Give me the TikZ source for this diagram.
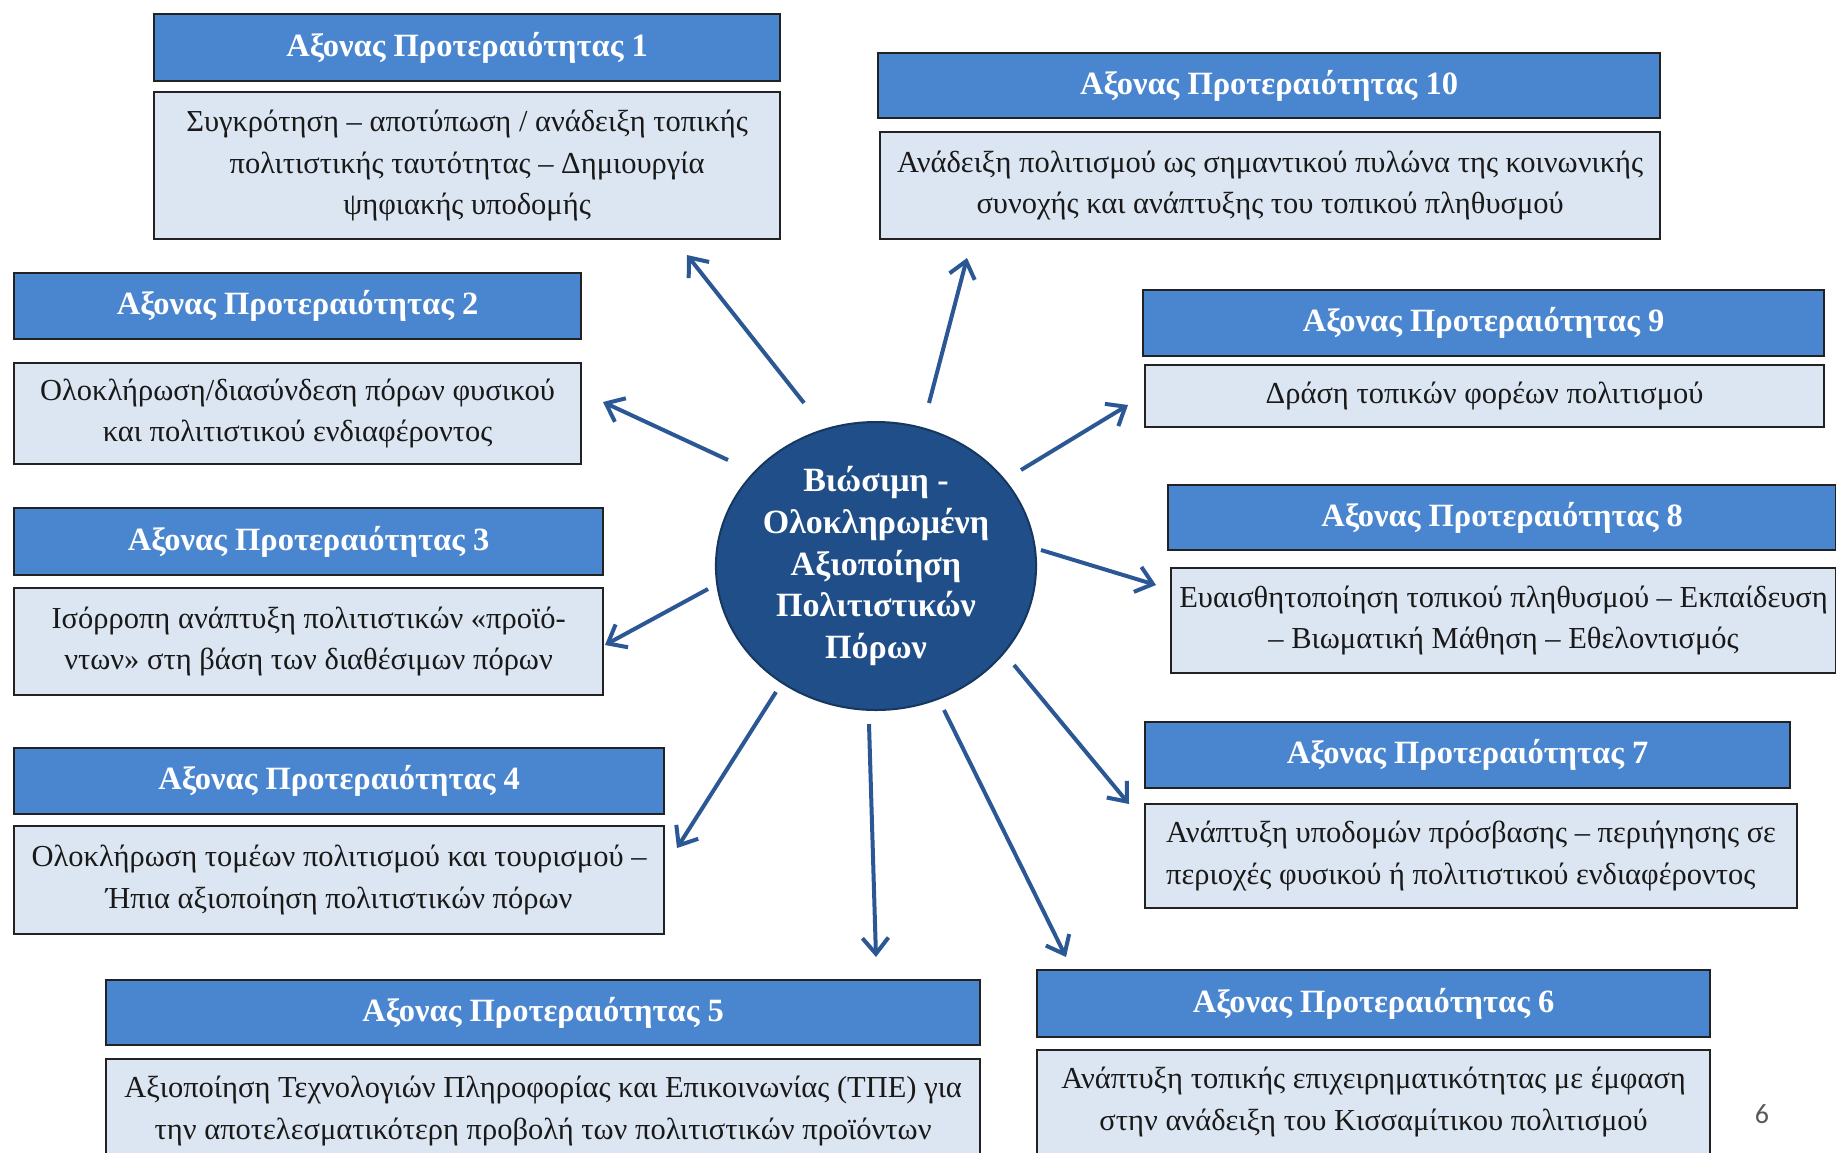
\documentclass[tikz,border=0pt]{standalone}
\usepackage{fontspec}
\setmainfont{Liberation Serif}
\newfontfamily\pagefont{Carlito}
\usetikzlibrary{arrows.meta,shapes.geometric}
\definecolor{titleblue}{HTML}{4A86D0}
\definecolor{bodyfill}{HTML}{DCE6F2}
\definecolor{navy}{HTML}{1F4E89}
\definecolor{arrowblue}{HTML}{2B5794}
\definecolor{boxline}{HTML}{222222}
\tikzset{
  titlebox/.style={draw=boxline, line width=2.2pt, fill=titleblue, text=white,
    font=\fontsize{32.5}{38}\selectfont\bfseries, inner sep=0pt, anchor=north west},
  bodybox/.style={draw=boxline, line width=2.2pt, fill=bodyfill, text=black!90,
    font=\fontsize{30.5}{41.6}\selectfont, align=center, inner sep=0pt, anchor=north west},
  hubnode/.style={ellipse, draw=navy!70!black, line width=2pt, fill=navy, text=white,
    font=\fontsize{34}{41.8}\selectfont\bfseries, align=center, inner sep=0pt},
  ray/.style={draw=arrowblue, line width=4pt, -{Straight Barb[length=16pt,width=26pt]}}
}
\begin{document}
\begin{tikzpicture}[x=1pt,y=-1pt]
\clip (0,0) rectangle (1836,1152);
\fill[white] (0,0) rectangle (1836,1152);

% hub
\node[hubnode, minimum width=316pt, minimum height=288pt] (hub) at (876,566)
  {Βιώσιμη -\\Ολοκληρωμένη\\Αξιοποίηση\\Πολιτιστικών\\Πόρων};

% box 1
\node[titlebox, minimum width=626pt, minimum height=67pt] (t1) at (153,13) {Αξονας Προτεραιότητας 1};
\node[bodybox, minimum width=626pt, minimum height=147pt] (b1) at (153,91)
  {Συγκρότηση – αποτύπωση / ανάδειξη τοπικής\\πολιτιστικής ταυτότητας – Δημιουργία\\ψηφιακής υποδομής};
% box 10
\node[titlebox, minimum width=782pt, minimum height=65pt] (t10) at (877,52) {Αξονας Προτεραιότητας 10};
\node[bodybox, minimum width=780pt, minimum height=107pt] (b10) at (879,131)
  {Ανάδειξη πολιτισμού ως σημαντικού πυλώνα της κοινωνικής\\συνοχής και ανάπτυξης του τοπικού πληθυσμού};
% box 2
\node[titlebox, minimum width=567pt, minimum height=66pt] (t2) at (13,272) {Αξονας Προτεραιότητας 2};
\node[bodybox, minimum width=567pt, minimum height=101pt] (b2) at (13,362)
  {Ολοκλήρωση/διασύνδεση πόρων φυσικού\\και πολιτιστικού ενδιαφέροντος};
% box 9
\node[titlebox, minimum width=681pt, minimum height=66pt] (t9) at (1142,289) {Αξονας Προτεραιότητας 9};
\node[bodybox, minimum width=679pt, minimum height=62pt] (b9) at (1144,364)
  {Δράση τοπικών φορέων πολιτισμού};
% box 3
\node[titlebox, minimum width=589pt, minimum height=67pt] (t3) at (13,507) {Αξονας Προτεραιότητας 3};
\node[bodybox, minimum width=589pt, minimum height=107pt] (b3) at (13,587)
  {Ισόρροπη ανάπτυξη πολιτιστικών «προϊό-\\ντων» στη βάση των διαθέσιμων πόρων};
% box 8
\node[titlebox, minimum width=668pt, minimum height=65pt] (t8) at (1167,484) {Αξονας Προτεραιότητας 8};
\node[bodybox, minimum width=665pt, minimum height=105pt] (b8) at (1170,567)
  {Ευαισθητοποίηση τοπικού πληθυσμού – Εκπαίδευση\\– Βιωματική Μάθηση – Εθελοντισμός};
% box 4
\node[titlebox, minimum width=650pt, minimum height=66pt] (t4) at (13,747) {Αξονας Προτεραιότητας 4};
\node[bodybox, minimum width=650pt, minimum height=108pt] (b4) at (13,825)
  {Ολοκλήρωση τομέων πολιτισμού και τουρισμού –\\Ήπια αξιοποίηση πολιτιστικών πόρων};
% box 7
\node[titlebox, minimum width=645pt, minimum height=66pt] (t7) at (1144,721) {Αξονας Προτεραιότητας 7};
\node[bodybox, align=left, minimum width=652pt, minimum height=104pt] (b7) at (1144,803)
  {Ανάπτυξη υποδομών πρόσβασης – περιήγησης σε\\περιοχές φυσικού ή πολιτιστικού ενδιαφέροντος};
% box 5
\node[titlebox, minimum width=874pt, minimum height=65pt] (t5) at (105,979) {Αξονας Προτεραιότητας 5};
\node[bodybox, minimum width=874pt, minimum height=104pt] (b5) at (105,1058)
  {Αξιοποίηση Τεχνολογιών Πληροφορίας και Επικοινωνίας (ΤΠΕ) για\\την αποτελεσματικότερη προβολή των πολιτιστικών προϊόντων};
% box 6
\node[titlebox, minimum width=673pt, minimum height=67pt] (t6) at (1036,969) {Αξονας Προτεραιότητας 6};
\node[bodybox, minimum width=673pt, minimum height=104pt] (b6) at (1036,1049)
  {Ανάπτυξη τοπικής επιχειρηματικότητας με έμφαση\\στην ανάδειξη του Κισσαμίτικου πολιτισμού};

% arrow ends
\coordinate (s1) at (804,403);  \coordinate (e1) at (687,255);
\coordinate (s10) at (929,403); \coordinate (e10) at (967,258);
\coordinate (s2) at (728,460);  \coordinate (e2) at (603,402);
\coordinate (s9) at (1021,470); \coordinate (e9) at (1128,405);
\coordinate (s3) at (708,589);  \coordinate (e3) at (605,645);
\coordinate (s8) at (1041,550); \coordinate (e8) at (1156,585);
\coordinate (s4) at (776,692);  \coordinate (e4) at (677,848);
\coordinate (s7) at (1014,665); \coordinate (e7) at (1129,804);
\coordinate (s5) at (869,724);  \coordinate (e5) at (876,957);
\coordinate (s6) at (944,710);  \coordinate (e6) at (1066,957);
\foreach \i in {1,2,3,4,5,6,7,8,9,10} {\draw[ray] (s\i) -- (e\i);}

\node[font=\pagefont\fontsize{28}{30}\selectfont, text=black!65] (pnum) at (1762,1114) {6};
\end{tikzpicture}
\end{document}
